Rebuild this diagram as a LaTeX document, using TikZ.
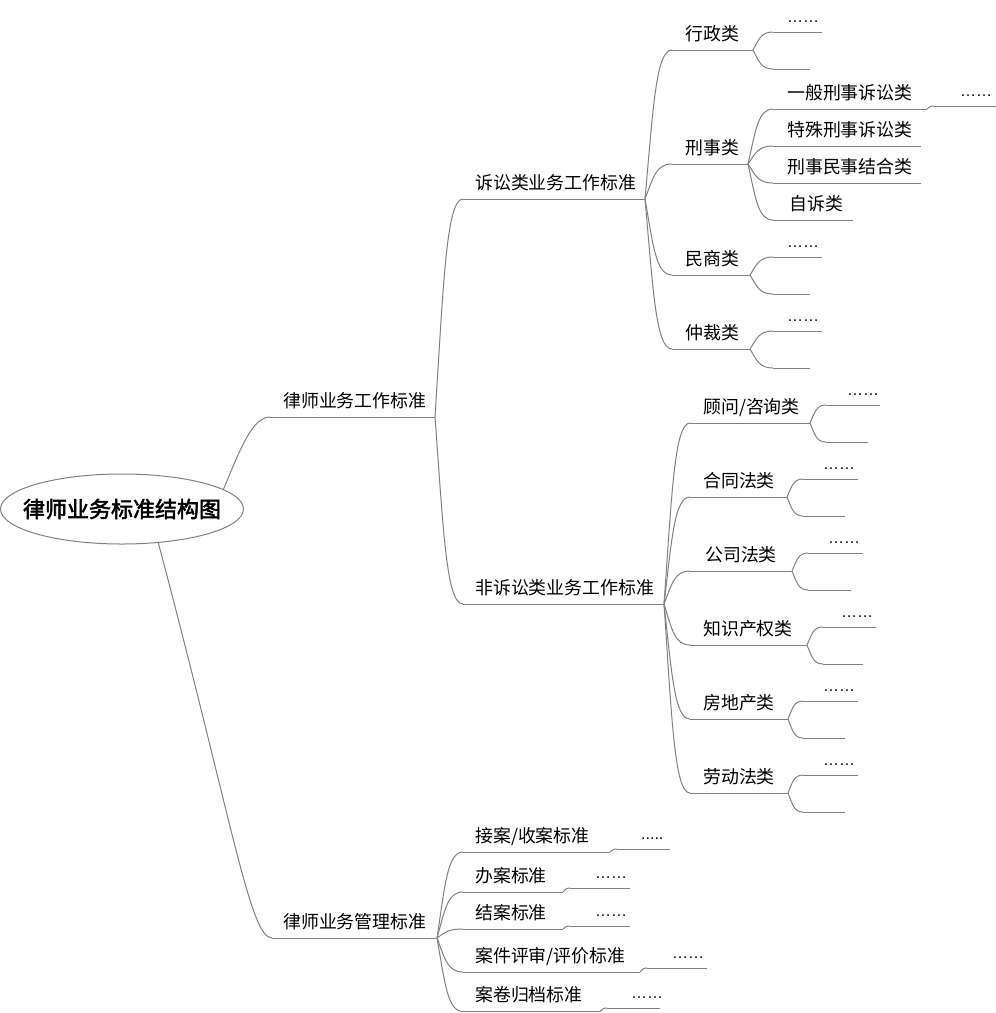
\documentclass[tikz,border=0pt]{standalone}
\usepackage{fontspec}
\newfontfamily\cjk{Noto Sans CJK SC}
\newfontfamily\cjkb{Noto Sans CJK SC}[FakeBold=2.5]
\newfontfamily\lat{Liberation Sans}
\usetikzlibrary{calc,shapes.geometric}
\definecolor{linegray}{RGB}{128,128,128}
\tikzset{
  conn/.style={draw=linegray, line width=1pt},
  lbl/.style={anchor=base west, inner sep=0pt, font=\cjk\fontsize{17.9}{20}\selectfont},
  dotlbl/.style={anchor=base west, inner sep=0pt, font=\lat\fontsize{16}{18}\selectfont},
  rootnode/.style={ellipse, draw=linegray, line width=1pt, minimum width=243pt, minimum height=70pt, inner sep=0pt, font=\cjkb\fontsize{22}{24}\selectfont}
}
% [style] name, x0, x1, y, label x, text
\newcommand\mmtopic[7][lbl]{%
  \coordinate (#2-l) at (#3,#5);
  \coordinate (#2-r) at (#4,#5);
  \draw[conn] (#2-l) -- (#2-r);
  \node[#1] (#2) at (#6,#5-10) {#7};}
\newcommand\mmleaf[4]{%
  \coordinate (#1-l) at (#2,#4);
  \coordinate (#1-r) at (#3,#4);
  \draw[conn] (#1-l) -- (#1-r);}
\newcommand\mmconn[2]{%
  \draw[conn] let \p1=(#1), \p2=(#2) in (\p1) .. controls ({\x1+0.3*(\x2-\x1)},{\y1+0.6*(\y2-\y1)}) and ({\x1+0.4*(\x2-\x1)},\y2) .. (\p2);}
\newcommand\mmt[6]{\mmtopic[lbl]{#1}{#2}{#3}{#4}{#5}{#6}}
\newcommand\mmd[6]{\mmtopic[dotlbl]{#1}{#2}{#3}{#4}{#5}{#6}}
\begin{document}
\begin{tikzpicture}[x=1pt,y=-1pt]
\useasboundingbox (0,0) rectangle (996,1013);
% root
\node[rootnode] (root) at (122,509) {\makebox[0pt]{律师业务标准结构图}};
% level 1
\mmt{wk}{270}{435}{417}{283}{律师业务工作标准}
\mmt{gl}{272}{437}{938}{283}{律师业务管理标准}
\draw[conn] (root.11) .. controls (240,450) and (252,417) .. (wk-l);
\draw[conn] (root.-43) .. controls (233,824) and (250,938) .. (gl-l);
% level 2
\mmt{ss}{463}{645}{199}{475}{诉讼类业务工作标准}
\mmt{fs}{463}{664}{604}{475}{非诉讼类业务工作标准}
\mmconn{wk-r}{ss-l}
\mmconn{wk-r}{fs-l}
% litigation
\mmt{xz}{672}{753}{50}{685}{行政类}
\mmt{xs}{672}{748}{164}{685}{刑事类}
\mmt{ms}{672}{750}{275}{685}{民商类}
\mmt{zc}{672}{750}{349}{685}{仲裁类}
\foreach \c in {xz,xs,ms,zc} {\mmconn{ss-r}{\c-l}}
% 行政类
\mmd{xza}{773}{822}{32}{787}{……}
\mmleaf{xzb}{773}{810}{69}
\mmconn{xz-r}{xza-l}
\mmconn{xz-r}{xzb-l}
% 刑事类
\mmt{yb}{773}{927}{109}{787}{一般刑事诉讼类}
\mmt{ts}{773}{921}{146}{787}{特殊刑事诉讼类}
\mmt{xm}{773}{921}{183}{787}{刑事民事结合类}
\mmt{zs}{773}{853}{220}{789}{自诉类}
\foreach \c in {yb,ts,xm,zs} {\mmconn{xs-r}{\c-l}}
\mmd{yba}{934}{996}{106}{960}{……}
\mmconn{yb-r}{yba-l}
% 民商类
\mmd{msa}{773}{822}{257}{787}{……}
\mmleaf{msb}{773}{810}{294}
\mmconn{ms-r}{msa-l}
\mmconn{ms-r}{msb-l}
% 仲裁类
\mmd{zca}{773}{822}{331}{787}{……}
\mmleaf{zcb}{773}{810}{368}
\mmconn{zc-r}{zca-l}
\mmconn{zc-r}{zcb-l}
% non-litigation
\mmt{gw}{690}{810}{423}{703}{顾问/咨询类}
\mmt{ht}{690}{787}{497}{703}{合同法类}
\mmt{gs}{690}{792}{571}{705}{公司法类}
\mmt{zq}{690}{807}{645}{703}{知识产权类}
\mmt{fd}{690}{788}{719}{703}{房地产类}
\mmt{ld}{690}{788}{793}{703}{劳动法类}
\foreach \c in {gw,ht,gs,zq,fd,ld} {\mmconn{fs-r}{\c-l}}
\mmd{gwa}{826}{880}{405}{847}{……}
\mmleaf{gwb}{826}{868}{442}
\mmconn{gw-r}{gwa-l}
\mmconn{gw-r}{gwb-l}
\mmd{hta}{803}{858}{479}{823}{……}
\mmleaf{htb}{803}{845}{516}
\mmconn{ht-r}{hta-l}
\mmconn{ht-r}{htb-l}
\mmd{gsa}{808}{863}{553}{828}{……}
\mmleaf{gsb}{808}{851}{590}
\mmconn{gs-r}{gsa-l}
\mmconn{gs-r}{gsb-l}
\mmd{zqa}{823}{876}{627}{841}{……}
\mmleaf{zqb}{823}{863}{664}
\mmconn{zq-r}{zqa-l}
\mmconn{zq-r}{zqb-l}
\mmd{fda}{803}{858}{701}{823}{……}
\mmleaf{fdb}{803}{845}{738}
\mmconn{fd-r}{fda-l}
\mmconn{fd-r}{fdb-l}
\mmd{lda}{803}{858}{775}{823}{……}
\mmleaf{ldb}{803}{845}{812}
\mmconn{ld-r}{lda-l}
\mmconn{ld-r}{ldb-l}
% management
\mmt{ja}{463}{610}{852}{475}{接案/收案标准}
\mmt{ba}{463}{563}{892}{475}{办案标准}
\mmt{jj}{463}{563}{929}{475}{结案标准}
\mmt{ap}{463}{640}{972}{475}{案件评审/评价标准}
\mmt{gd}{463}{600}{1011.5}{475}{案卷归档标准}
\foreach \c in {ja,ba,jj,ap,gd} {\mmconn{gl-r}{\c-l}}
\mmd{jaa}{617}{670}{849}{641}{.....}
\mmd{baa}{570}{630}{888}{595}{……}
\mmd{jja}{570}{630}{926}{595}{……}
\mmd{apa}{647}{707}{968}{672}{……}
\mmd{gda}{607}{660}{1008}{631}{……}
\foreach \c in {ja,ba,jj,ap,gd} {\mmconn{\c-r}{\c a-l}}
\end{tikzpicture}
\end{document}
